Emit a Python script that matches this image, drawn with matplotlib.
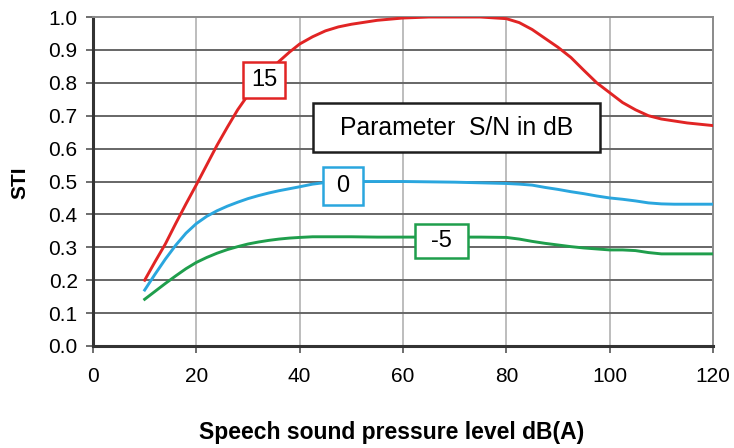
import matplotlib.pyplot as plt
from matplotlib.patches import Rectangle

plt.rcParams['font.family'] = ['Liberation Sans', 'DejaVu Sans']

# Speech sound pressure level, dB(A)
level = [10, 12, 14, 16, 18, 20, 22, 24, 26, 28, 30, 32, 34, 36, 38, 40, 42.5, 45, 47.5,
         50, 55, 60, 65, 70, 75, 80, 82.5, 85, 87.5, 90, 92.5, 95, 97.5, 100, 102.5,
         105, 107.5, 110, 112.5, 115, 117.5, 120]

# STI for each S/N parameter
sti_sn15 = [0.20, 0.256, 0.31, 0.372, 0.432, 0.49, 0.55, 0.61, 0.665, 0.718, 0.763, 0.80, 0.835, 0.865, 0.893, 0.918, 0.94, 0.958, 0.97,
            0.978, 0.99, 0.997, 1.0, 1.0, 1.0, 0.995, 0.983, 0.962, 0.935, 0.908, 0.877, 0.838, 0.80, 0.77, 0.74,
            0.718, 0.70, 0.69, 0.684, 0.678, 0.674, 0.67]
sti_sn0 = [0.17, 0.218, 0.264, 0.306, 0.343, 0.372, 0.394, 0.411, 0.425, 0.437, 0.448, 0.457, 0.465, 0.472, 0.478, 0.484, 0.492, 0.497, 0.499,
           0.50, 0.50, 0.50, 0.499, 0.498, 0.496, 0.494, 0.492, 0.489, 0.482, 0.476, 0.469, 0.463, 0.456, 0.45, 0.446,
           0.441, 0.435, 0.432, 0.431, 0.431, 0.431, 0.431]
sti_snm5 = [0.142, 0.166, 0.19, 0.213, 0.235, 0.254, 0.269, 0.282, 0.293, 0.302, 0.31, 0.316, 0.321, 0.325, 0.328, 0.33, 0.332, 0.332, 0.332,
            0.332, 0.331, 0.331, 0.331, 0.331, 0.331, 0.33, 0.325, 0.318, 0.312, 0.307, 0.302, 0.298, 0.295, 0.292, 0.292,
            0.29, 0.284, 0.28, 0.28, 0.28, 0.28, 0.28]

# (label, values, colour, label box x0, x1, y0, y1)
series = [
    ('15', sti_sn15, '#e12424', 29.1, 37.2, 0.753, 0.864),
    ('0', sti_sn0, '#2aa6de', 44.5, 52.3, 0.430, 0.545),
    ('-5', sti_snm5, '#1f9e4c', 62.3, 72.6, 0.267, 0.370),
]

fig = plt.figure(figsize=(7.34, 4.48), dpi=100)
ax = fig.add_axes([0.1267, 0.2277, 0.8447, 0.7343])

for name, vals, color, x0, x1, y0, y1 in series:
    ax.plot(level, vals, color=color, lw=2.1, zorder=3)
    ax.add_patch(Rectangle((x0, y0), x1 - x0, y1 - y0, fc='white', ec=color, lw=1.8, zorder=4))
    ax.text((x0 + x1) / 2, (y0 + y1) / 2, name, fontsize=17, ha='center', va='center', zorder=5)

ax.add_patch(Rectangle((42.6, 0.59), 98.1 - 42.6, 0.74 - 0.59, fc='white', ec='#1e1e1e', lw=1.8, zorder=4))
ax.text(70.3, 0.663, 'Parameter  S/N in dB', fontsize=17.8, ha='center', va='center', zorder=5)

ax.set_xlim(0, 120)
ax.set_ylim(0, 1.0)
ax.set_xticks(range(0, 121, 20))
ax.set_yticks([i / 10 for i in range(11)])
ax.set_yticklabels([f'{i / 10:.1f}' for i in range(11)])
ax.tick_params(labelsize=15, length=5, width=1.2, color='#555555')
ax.tick_params(axis='x', pad=10)
ax.tick_params(axis='y', pad=6)

# vertical grid light, horizontal grid dark
for x in range(20, 120, 20):
    ax.axvline(x, color='#b8b8b8', lw=1.3, zorder=1)
for i in range(1, 10):
    ax.axhline(i / 10, color='#666666', lw=1.4, zorder=1)

for side in ('top', 'right'):
    ax.spines[side].set_color('#8a8a8a')
    ax.spines[side].set_linewidth(1.4)
for side in ('left', 'bottom'):
    ax.spines[side].set_color('#333333')
    ax.spines[side].set_linewidth(2.2)

fig.text(20 / 734, 1 - 183 / 448, 'STI', fontsize=15, fontweight='bold',
         rotation=90, ha='center', va='center')
fig.text(392 / 734, 1 - 432 / 448, 'Speech sound pressure level dB(A)', fontsize=16.5,
         fontweight='bold', ha='center', va='center')

fig.savefig('out.png', dpi=100)
